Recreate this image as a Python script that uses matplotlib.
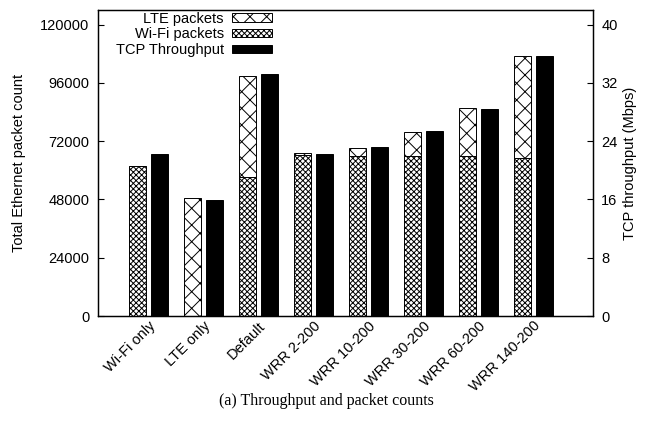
import matplotlib
matplotlib.use('Agg')
import matplotlib.pyplot as plt
import numpy as np

# ----- Data -----
categories = ['Wi-Fi only', 'LTE only', 'Default', 'WRR 2-200', 'WRR 10-200',
              'WRR 30-200', 'WRR 60-200', 'WRR 140-200']
wifi_packets = [61900, 0, 57400, 66450, 66040, 66040, 66040, 65200]
lte_packets = [0, 48500, 41500, 650, 3290, 9860, 19440, 42060]
tcp_throughput = [22.2, 15.9, 33.15, 22.3, 23.15, 25.4, 28.4, 35.75]

left_ticks = [0, 24000, 48000, 72000, 96000, 120000]
right_ticks = [0, 8, 16, 24, 32, 40]

plt.rcParams['font.family'] = ['Liberation Sans', 'DejaVu Sans']
plt.rcParams['font.size'] = 10.5
plt.rcParams['hatch.linewidth'] = 0.7

# ----- Plotting -----
fig = plt.figure(figsize=(6.52, 4.29), dpi=100)
ax = fig.add_axes([0.150, 0.2634, 0.7595, 0.7133])
ax2 = ax.twinx()

x = np.arange(len(categories))
w = 0.3
off = 0.2

b_wifi = ax.bar(x - off, wifi_packets, w, color='white', edgecolor='black',
                linewidth=0.7, hatch='xxxxxx', label='Wi-Fi packets')
b_lte = ax.bar(x - off, lte_packets, w, bottom=wifi_packets, color='white',
               edgecolor='black', linewidth=0.7, hatch='xx', label='LTE packets')
b_tcp = ax2.bar(x + off, tcp_throughput, w, color='black', edgecolor='black',
                linewidth=0.7, label='TCP Throughput')

ax.set_xlim(-0.918, 8.082)
ax.set_ylim(0, 126000)
ax2.set_ylim(0, 42)
ax.set_yticks(left_ticks)
ax2.set_yticks(right_ticks)
ax.set_xticks(x)
ax.set_xticklabels(categories, rotation=45, ha='right', rotation_mode='anchor')
ax.tick_params(axis='x', length=0, pad=2)
ax.tick_params(axis='y', direction='in', length=4, pad=6)
ax2.tick_params(axis='y', direction='in', length=4, pad=6)

ax.set_ylabel('Total Ethernet packet count', labelpad=10)
ax2.set_ylabel('TCP throughput (Mbps)', labelpad=4)

for a in (ax, ax2):
    for s in a.spines.values():
        s.set_linewidth(0.9)

ax.legend([b_lte, b_wifi, b_tcp], ['LTE packets', 'Wi-Fi packets', 'TCP Throughput'],
          loc='upper right', bbox_to_anchor=(0.3515, 0.995), frameon=False,
          markerfirst=False, handlelength=2.7, handleheight=0.5,
          labelspacing=0.12, borderpad=0, borderaxespad=0, handletextpad=0.6)

fig.text(0.5, 0.066, '(a) Throughput and packet counts', ha='center', va='center',
         family=['Liberation Serif', 'DejaVu Serif'], fontsize=11.5)

plt.savefig('out.png', dpi=100)
